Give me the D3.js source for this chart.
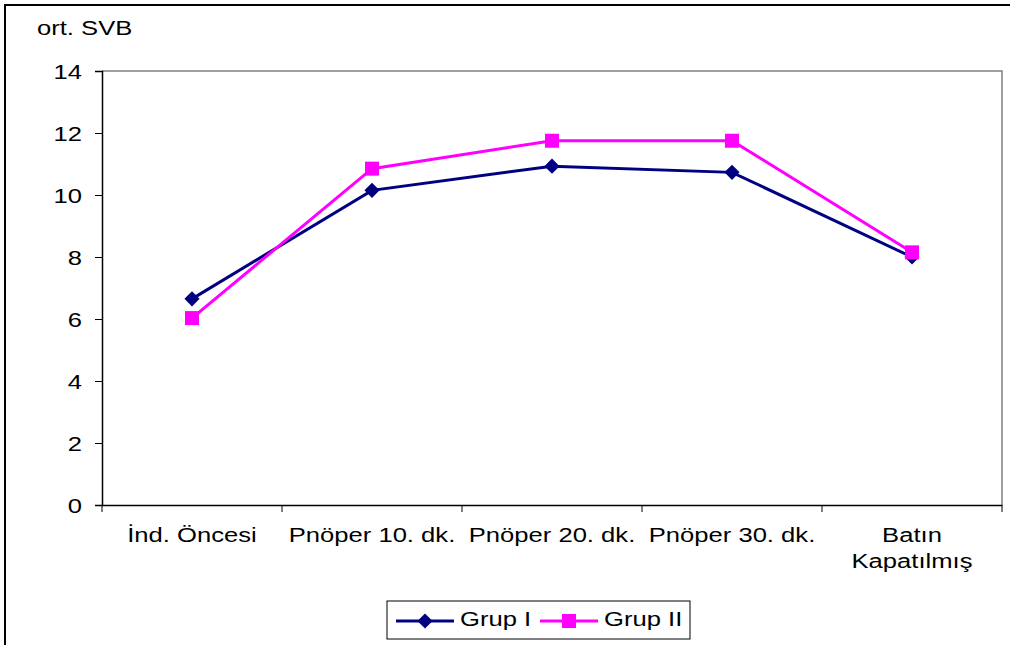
<!DOCTYPE html>
<html>
<head>
<meta charset="utf-8">
<script src="https://cdn.jsdelivr.net/npm/d3@7"></script>
<style>
  body { margin: 0; background: #fff; }
  text { font-family: "Liberation Sans", Arial, sans-serif; fill: #000; }
</style>
</head>
<body>
<svg id="chart" width="1010" height="645"></svg>
<script>
const categories = ["İnd. Öncesi", "Pnöper 10. dk.", "Pnöper 20. dk.", "Pnöper 30. dk.", "Batın\nKapatılmış"];
const grup1 = [6.65, 10.15, 10.93, 10.73, 8.0];
const grup2 = [6.03, 10.85, 11.75, 11.75, 8.15];
const yTicks = [0, 2, 4, 6, 8, 10, 12, 14];

const svg = d3.select("#chart");
const plotL = 102, plotR = 1002, plotT = 71, plotB = 505;
const fs = "20px", sx = 1.28; // the source text is a bit stretched sideways

// text helper: anchor point + horizontal stretch
function label(g, x, y, txt, anchor) {
  return g.append("text")
    .attr("transform", `translate(${x},${y}) scale(${sx},1)`)
    .attr("text-anchor", anchor || "start")
    .style("font-size", fs)
    .text(txt);
}

// outer frame
svg.append("rect")
  .attr("x", 5).attr("y", 5).attr("width", 1020).attr("height", 660)
  .attr("fill", "none").attr("stroke", "#000").attr("stroke-width", 2);

const x = d3.scaleBand().domain(categories).range([plotL, plotR]);
const y = d3.scaleLinear().domain([0, 14]).range([plotB, plotT]);

// plot frame (top and right, gray)
svg.append("path")
  .attr("d", `M${plotL},${plotT}H${plotR}V${plotB}`)
  .attr("fill", "none").attr("stroke", "#808080").attr("stroke-width", 1.5);

// y axis
const yAxis = svg.append("g")
  .attr("transform", `translate(${plotL},0)`)
  .call(d3.axisLeft(y).tickValues(yTicks).tickSize(7));
yAxis.select(".domain").attr("stroke", "#000").attr("stroke-width", 1.5);
yAxis.selectAll(".tick line").attr("stroke", "#000");
yAxis.selectAll(".tick text")
  .attr("x", null).attr("dy", null)
  .attr("transform", `translate(-20,7) scale(${sx},1)`)
  .style("font-size", fs)
  .style("font-family", "Liberation Sans, Arial, sans-serif");

// x axis
const xAxis = svg.append("g")
  .attr("transform", `translate(0,${plotB})`)
  .call(d3.axisBottom(x).tickSize(0).tickFormat(""));
xAxis.select(".domain").attr("stroke", "#000").attr("stroke-width", 1.5);
// tick marks on band edges
svg.append("g").selectAll("line")
  .data(categories.concat([null]))
  .join("line")
  .attr("x1", (d, i) => plotL + i * x.bandwidth())
  .attr("x2", (d, i) => plotL + i * x.bandwidth())
  .attr("y1", plotB).attr("y2", plotB + 7)
  .attr("stroke", "#000");

// category labels
const catG = svg.append("g");
categories.forEach(c => {
  c.split("\n").forEach((p, i) => {
    label(catG, x(c) + x.bandwidth() / 2, 542 + i * 26, p, "middle");
  });
});

// y title
label(svg, 37, 35, "ort. SVB");

const cx = d => x(d) + x.bandwidth() / 2;
const line = d3.line().x((d, i) => cx(categories[i])).y(d => y(d));

// diamond = square turned 45 degrees
const series = [
  { name: "Grup I", values: grup1, color: "#000080", size: 115, rot: 45 },
  { name: "Grup II", values: grup2, color: "#FF00FF", size: 196, rot: 0 }
];

series.forEach(s => {
  svg.append("path")
    .attr("d", line(s.values))
    .attr("fill", "none").attr("stroke", s.color).attr("stroke-width", 3);
  svg.append("g").selectAll("path")
    .data(s.values)
    .join("path")
    .attr("transform", (d, i) => `translate(${cx(categories[i])},${y(d)}) rotate(${s.rot})`)
    .attr("d", d3.symbol(d3.symbolSquare, s.size))
    .attr("fill", s.color);
});

// legend
const leg = svg.append("g");
leg.append("rect")
  .attr("x", 387).attr("y", 601).attr("width", 303).attr("height", 38)
  .attr("fill", "#fff").attr("stroke", "#000").attr("stroke-width", 1);
const legPos = [396, 540];
series.forEach((s, i) => {
  const lx = legPos[i];
  leg.append("line")
    .attr("x1", lx).attr("x2", lx + 58).attr("y1", 621).attr("y2", 621)
    .attr("stroke", s.color).attr("stroke-width", 3);
  leg.append("path")
    .attr("transform", `translate(${lx + 29},621) rotate(${s.rot})`)
    .attr("d", d3.symbol(d3.symbolSquare, s.size))
    .attr("fill", s.color);
  label(leg, lx + 64, 626, s.name);
});
</script>
</body>
</html>
